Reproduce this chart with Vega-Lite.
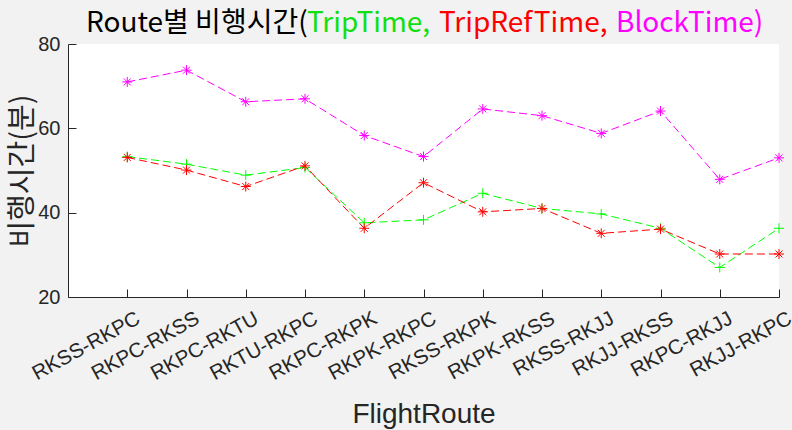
{
  "$schema": "https://vega.github.io/schema/vega-lite/v6.json",
  "autosize": "none",
  "width": 711,
  "height": 253,
  "padding": {"left": 68, "top": 44, "right": 13, "bottom": 133},
  "background": "#f2f2f2",
  "config": {
    "view": {"fill": "#ffffff", "stroke": null},
    "axis": {
      "domainColor": "#262626",
      "tickColor": "#262626",
      "labelColor": "#262626",
      "titleColor": "#262626",
      "grid": false,
      "tickSize": -8,
      "domainWidth": 1,
      "tickWidth": 1
    }
  },
  "data": {
    "values": [
      {"route": "RKSS-RKPC", "series": "TripTime", "minutes": 53.3},
      {"route": "RKPC-RKSS", "series": "TripTime", "minutes": 51.5},
      {"route": "RKPC-RKTU", "series": "TripTime", "minutes": 48.9},
      {"route": "RKTU-RKPC", "series": "TripTime", "minutes": 50.7},
      {"route": "RKPC-RKPK", "series": "TripTime", "minutes": 37.6},
      {"route": "RKPK-RKPC", "series": "TripTime", "minutes": 38.3},
      {"route": "RKSS-RKPK", "series": "TripTime", "minutes": 44.6},
      {"route": "RKPK-RKSS", "series": "TripTime", "minutes": 41.0},
      {"route": "RKSS-RKJJ", "series": "TripTime", "minutes": 39.7},
      {"route": "RKJJ-RKSS", "series": "TripTime", "minutes": 36.3},
      {"route": "RKPC-RKJJ", "series": "TripTime", "minutes": 27.0},
      {"route": "RKJJ-RKPC", "series": "TripTime", "minutes": 36.3},
      {"route": "RKSS-RKPC", "series": "TripRefTime", "minutes": 53.1},
      {"route": "RKPC-RKSS", "series": "TripRefTime", "minutes": 50.1},
      {"route": "RKPC-RKTU", "series": "TripRefTime", "minutes": 46.2},
      {"route": "RKTU-RKPC", "series": "TripRefTime", "minutes": 51.1},
      {"route": "RKPC-RKPK", "series": "TripRefTime", "minutes": 36.3},
      {"route": "RKPK-RKPC", "series": "TripRefTime", "minutes": 47.1},
      {"route": "RKSS-RKPK", "series": "TripRefTime", "minutes": 40.2},
      {"route": "RKPK-RKSS", "series": "TripRefTime", "minutes": 41.0},
      {"route": "RKSS-RKJJ", "series": "TripRefTime", "minutes": 35.1},
      {"route": "RKJJ-RKSS", "series": "TripRefTime", "minutes": 36.1},
      {"route": "RKPC-RKJJ", "series": "TripRefTime", "minutes": 30.2},
      {"route": "RKJJ-RKPC", "series": "TripRefTime", "minutes": 30.2},
      {"route": "RKSS-RKPC", "series": "BlockTime", "minutes": 71.0},
      {"route": "RKPC-RKSS", "series": "BlockTime", "minutes": 73.8},
      {"route": "RKPC-RKTU", "series": "BlockTime", "minutes": 66.3},
      {"route": "RKTU-RKPC", "series": "BlockTime", "minutes": 67.0},
      {"route": "RKPC-RKPK", "series": "BlockTime", "minutes": 58.3},
      {"route": "RKPK-RKPC", "series": "BlockTime", "minutes": 53.3},
      {"route": "RKSS-RKPK", "series": "BlockTime", "minutes": 64.6},
      {"route": "RKPK-RKSS", "series": "BlockTime", "minutes": 63.0},
      {"route": "RKSS-RKJJ", "series": "BlockTime", "minutes": 58.8},
      {"route": "RKJJ-RKSS", "series": "BlockTime", "minutes": 64.1},
      {"route": "RKPC-RKJJ", "series": "BlockTime", "minutes": 47.9},
      {"route": "RKJJ-RKPC", "series": "BlockTime", "minutes": 53.0}
    ]
  },
  "encoding": {
    "x": {
      "field": "route",
      "type": "ordinal",
      "scale": {
        "type": "point",
        "domain": ["RKSS-RKPC", "RKPC-RKSS", "RKPC-RKTU", "RKTU-RKPC", "RKPC-RKPK", "RKPK-RKPC", "RKSS-RKPK", "RKPK-RKSS", "RKSS-RKJJ", "RKJJ-RKSS", "RKPC-RKJJ", "RKJJ-RKPC"],
        "padding": 0.5,
        "align": 1
      },
      "axis": {
        "title": "FlightRoute",
        "titleFont": "Liberation Sans",
        "titleFontSize": 28,
        "titleFontWeight": "normal",
        "titleBaseline": "alphabetic",
        "titleY": 125,
        "labelFont": "Liberation Sans",
        "labelFontSize": 20.5,
        "labelAngle": -29,
        "labelAlign": "right",
        "labelBaseline": "top",
        "labelPadding": 19,
        "labelOffset": 6
      }
    },
    "y": {
      "field": "minutes",
      "type": "quantitative",
      "scale": {"domain": [20, 80], "nice": false, "zero": false},
      "axis": {
        "values": [20, 40, 60, 80],
        "title": "비행시간(분)",
        "titleFont": "Noto Sans CJK KR",
        "titleFontSize": 29,
        "titleFontWeight": "normal",
        "titleBaseline": "middle",
        "titleX": -46,
        "labelFont": "Liberation Sans",
        "labelFontSize": 20,
        "labelPadding": 16
      }
    },
    "color": {
      "field": "series",
      "type": "nominal",
      "scale": {
        "domain": ["TripTime", "TripRefTime", "BlockTime"],
        "range": ["#00ff00", "#ff0000", "#ff00ff"]
      },
      "legend": {
        "orient": "none",
        "legendX": 18,
        "legendY": -34,
        "direction": "horizontal",
        "gridAlign": "none",
        "title": "Route별 비행시간(",
        "titleOrient": "left",
        "titleFont": "Noto Sans CJK KR",
        "titleFontSize": 28,
        "titleFontWeight": "normal",
        "titleColor": "#000000",
        "titlePadding": -29,
        "titleLimit": 1000,
        "labelFont": "Noto Sans CJK KR",
        "labelFontSize": 28,
        "labelLimit": 1000,
        "labelOffset": 0,
        "labelExpr": "datum.label == 'BlockTime' ? datum.label + ')' : datum.label + ','",
        "labelColor": {"expr": "datum.value == 'TripTime' ? '#10e010' : datum.value == 'TripRefTime' ? '#ff0000' : '#ff00ff'"},
        "symbolSize": 0,
        "symbolStrokeWidth": 0,
        "symbolOpacity": 0,
        "symbolType": "circle",
        "columnPadding": -20
      }
    }
  },
  "layer": [
    {
      "mark": {"type": "line", "strokeWidth": 1, "strokeDash": [8, 4]}
    },
    {
      "mark": {"type": "point", "filled": false, "strokeWidth": 1, "opacity": 1, "size": 100},
      "encoding": {
        "shape": {
          "field": "series",
          "type": "nominal",
          "scale": {
            "domain": ["TripTime", "TripRefTime", "BlockTime"],
            "range": [
              "M-1,0H1M0,-1V1",
              "M-1,0H1M0,-1V1M-0.7,-0.7L0.7,0.7M-0.7,0.7L0.7,-0.7",
              "M-1,0H1M0,-1V1M-0.7,-0.7L0.7,0.7M-0.7,0.7L0.7,-0.7"
            ]
          },
          "legend": null
        }
      }
    }
  ]
}
